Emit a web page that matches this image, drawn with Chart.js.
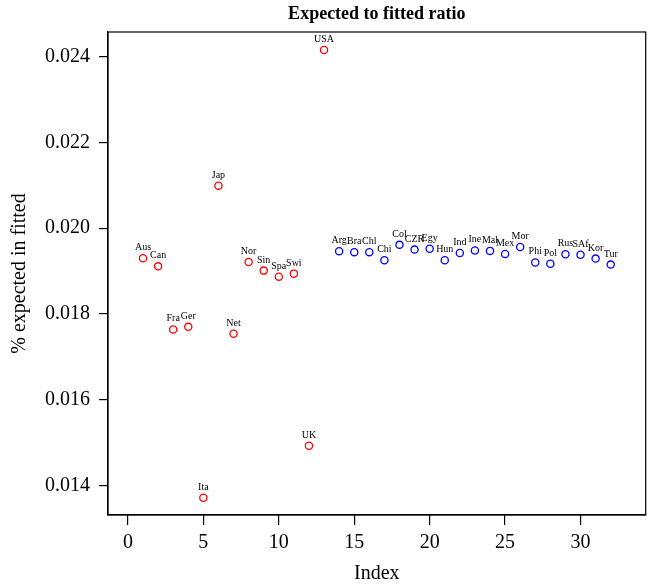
<!DOCTYPE html>
<html>
<head>
<meta charset="utf-8">
<script src="https://cdn.jsdelivr.net/npm/chart.js@4"></script>
<style>
  body { margin: 0; background: #fff; }
  #wrap { width: 651px; height: 587px; }
</style>
</head>
<body>
<div id="wrap"><canvas id="ratio-chart"></canvas></div>
<script>
// red group (index 1..13)
const devNames = ['Aus', 'Can', 'Fra', 'Ger', 'Ita', 'Jap', 'Net', 'Nor', 'Sin', 'Spa', 'Swi', 'UK', 'USA'];
const devValues = [0.01930, 0.01911, 0.01764, 0.01770, 0.01372, 0.02099, 0.01754, 0.01921, 0.01901, 0.01887, 0.01894, 0.01493, 0.02415];

// blue group (index 14..32)
const emgNames = ['Arg', 'Bra', 'Chl', 'Chi', 'Col', 'CZR', 'Egy', 'Hun', 'Ind', 'Ine', 'Mal', 'Mex', 'Mor', 'Phi', 'Pol', 'Rus', 'SAf', 'Kor', 'Tur'];
const emgValues = [0.01946, 0.01944, 0.01944, 0.01925, 0.01961, 0.01950, 0.01952, 0.01925, 0.01942, 0.01948, 0.01947, 0.01940, 0.01956, 0.01920, 0.01917, 0.01939, 0.01938, 0.01929, 0.01915];

const xTicks = [0, 5, 10, 15, 20, 25, 30];
const yTicks = [0.014, 0.016, 0.018, 0.020, 0.022, 0.024];

const serif = '"Liberation Serif", "DejaVu Serif", serif';

function toPoints(values, start) {
  return values.map((v, i) => ({ x: start + i, y: v }));
}

// box around the plot + text labels above points
const boxAndLabels = {
  id: 'boxAndLabels',
  afterDatasetsDraw(chart) {
    const ctx = chart.ctx;
    const a = chart.chartArea;
    ctx.save();
    ctx.strokeStyle = '#000';
    ctx.lineWidth = 1.2;
    ctx.strokeRect(a.left, a.top, a.right - a.left, a.bottom - a.top);

    ctx.fillStyle = '#000';
    ctx.font = '10px ' + serif;
    ctx.textAlign = 'center';
    ctx.textBaseline = 'alphabetic';
    const allNames = [devNames, emgNames];
    chart.data.datasets.forEach((ds, di) => {
      const meta = chart.getDatasetMeta(di);
      meta.data.forEach((pt, i) => {
        ctx.fillText(allNames[di][i], pt.x, pt.y - 8);
      });
    });
    ctx.restore();
  }
};

const ctx = document.getElementById('ratio-chart').getContext('2d');

new Chart(ctx, {
  type: 'scatter',
  data: {
    datasets: [
      {
        data: toPoints(devValues, 1),
        borderColor: '#ff0000',
        backgroundColor: 'rgba(0,0,0,0)',
        pointRadius: 3.6,
        pointBorderWidth: 1.3
      },
      {
        data: toPoints(emgValues, 14),
        borderColor: '#0000ff',
        backgroundColor: 'rgba(0,0,0,0)',
        pointRadius: 3.6,
        pointBorderWidth: 1.3
      }
    ]
  },
  options: {
    responsive: true,
    maintainAspectRatio: false,
    animation: false,
    layout: { padding: { left: 0, right: 3, top: 0, bottom: 0 } },
    plugins: {
      legend: { display: false },
      tooltip: { enabled: false },
      title: {
        display: true,
        text: 'Expected to fitted ratio',
        fullSize: false,
        color: '#000',
        font: { family: serif, size: 18, weight: 'bold' },
        padding: { top: 4, bottom: 6.4 }
      }
    },
    scales: {
      x: {
        type: 'linear',
        min: -1.32,
        max: 34.32,
        afterBuildTicks: (scale) => { scale.ticks = xTicks.map(v => ({ value: v })); },
        afterFit: (scale) => { scale.height = 72; },
        grid: { drawOnChartArea: false, drawTicks: true, tickLength: 10, color: '#000', lineWidth: 1.2 },
        border: { display: true, color: '#000', width: 1.2 },
        ticks: { color: '#000', padding: 6, maxRotation: 0, font: { family: serif, size: 20 } },
        title: {
          display: true,
          text: 'Index',
          color: '#000',
          font: { family: serif, size: 20 },
          padding: { top: 0, bottom: 1 }
        }
      },
      y: {
        type: 'linear',
        min: 0.013317,
        max: 0.024569,
        afterBuildTicks: (scale) => { scale.ticks = yTicks.map(v => ({ value: v })); },
        afterFit: (scale) => { scale.width = 108; },
        grid: { drawOnChartArea: false, drawTicks: true, tickLength: 9, color: '#000', lineWidth: 1.2 },
        border: { display: true, color: '#000', width: 1.2 },
        ticks: {
          color: '#000',
          padding: 9,
          font: { family: serif, size: 20 },
          callback: (v) => Number(v).toFixed(3)
        },
        title: {
          display: true,
          text: '% expected in fitted',
          color: '#000',
          font: { family: serif, size: 20 },
          padding: { top: 8, bottom: 0 }
        }
      }
    }
  },
  plugins: [boxAndLabels]
});
</script>
</body>
</html>
